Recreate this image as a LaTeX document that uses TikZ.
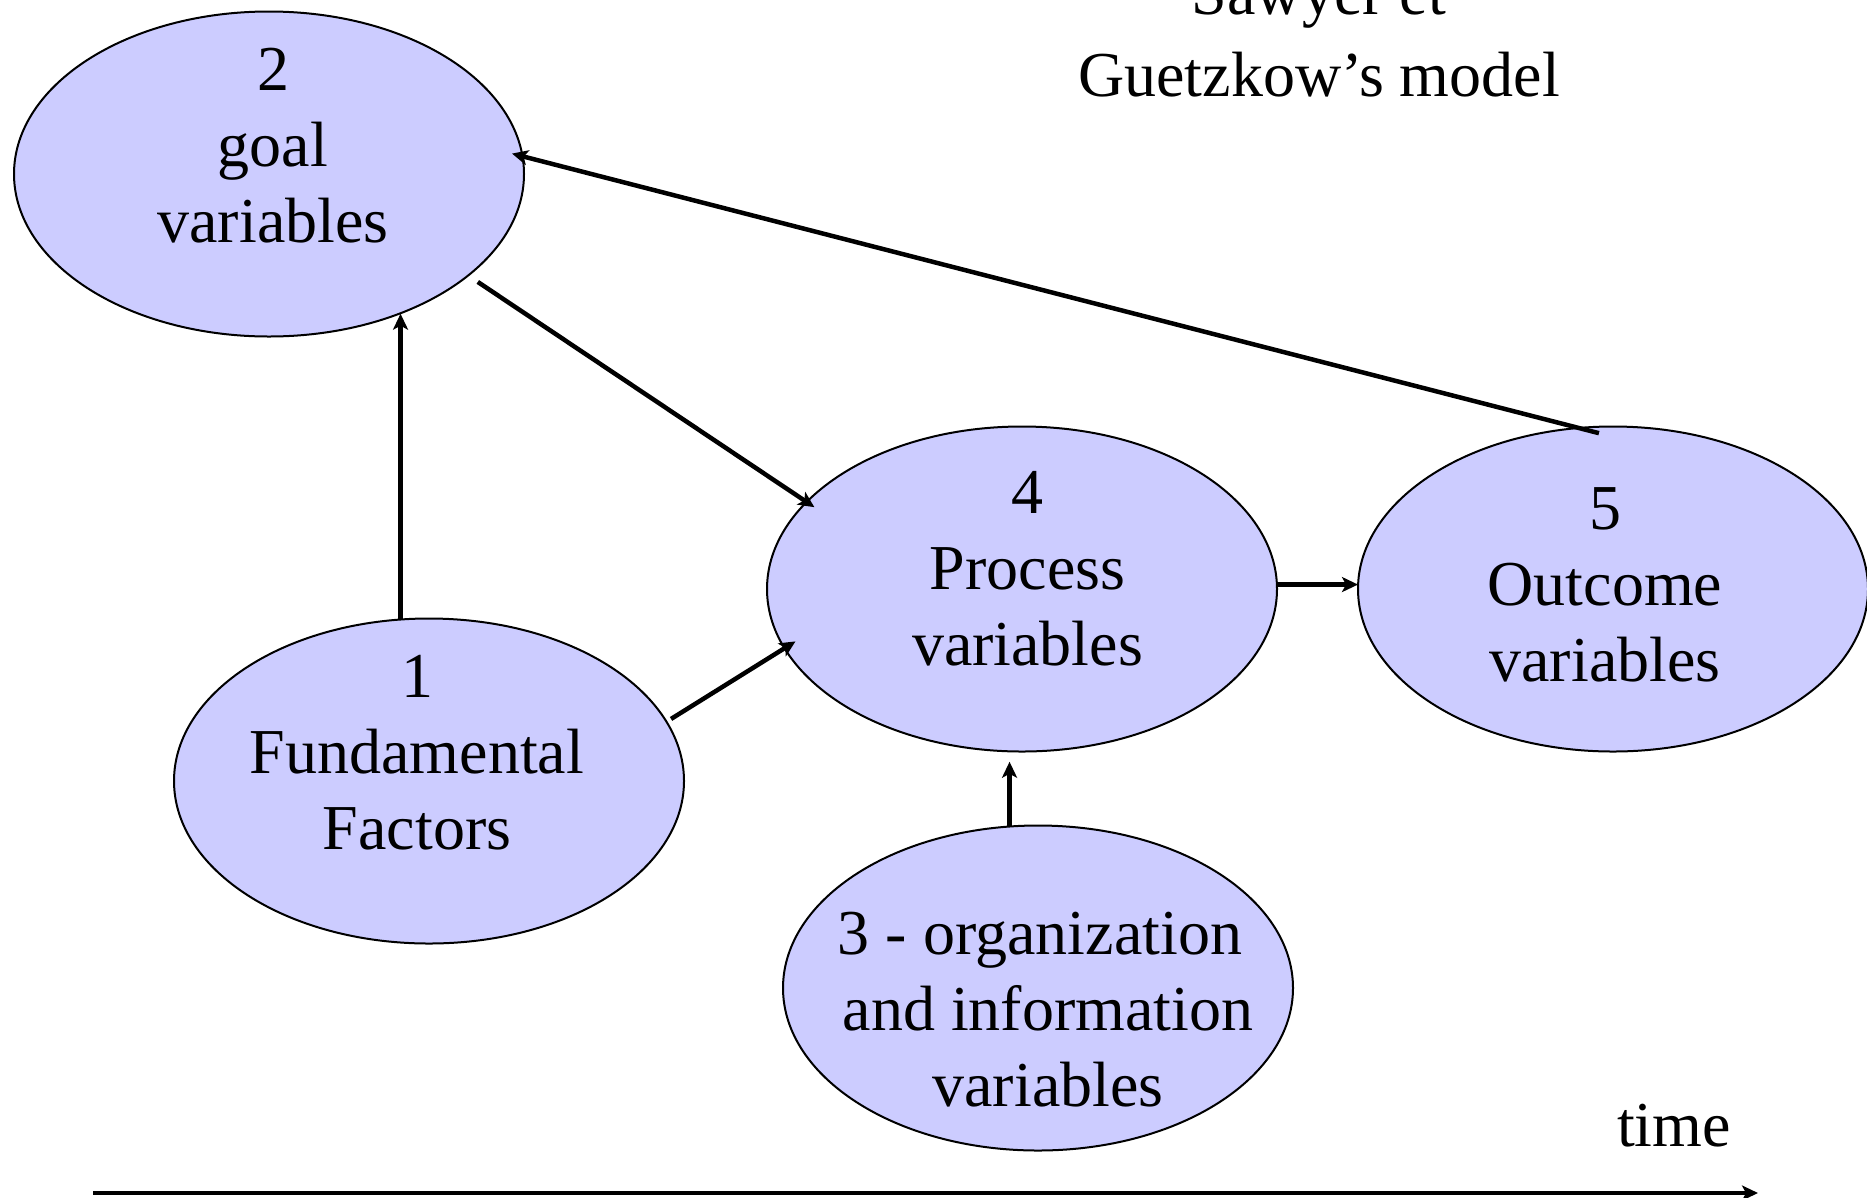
\documentclass[tikz,border=0pt]{standalone}
\usepackage{fontspec}
\setmainfont{Liberation Serif}
\usetikzlibrary{shapes.geometric,arrows.meta}
\definecolor{ovalfill}{RGB}{204,204,255}
% strut that gives every text line the same height and depth
\newcommand{\lstrut}{\rule[-26pt]{0pt}{76pt}}

\begin{document}
\begin{tikzpicture}[x=1pt,y=-1pt,
  oval/.style={ellipse, draw=black, line width=2pt, fill=ovalfill,
    minimum width=510pt, minimum height=325pt, inner sep=0pt, outer sep=0pt},
  lbl/.style={font=\fontsize{64}{76}\selectfont, align=center, inner sep=0pt},
  link/.style={line width=4.5pt, -{Stealth[length=16pt,width=15pt,inset=4pt]}}]
\useasboundingbox (0,0) rectangle (1867,1197);

% variable groups
\node[oval] (e2) at (269,174) {};
\node[oval] (e1) at (429,781) {};
\node[oval] (e4) at (1022,589) {};
\node[oval] (e5) at (1613,589) {};
\node[oval] (e3) at (1038,988) {};

\node[lbl] (t2) at (273,154) {\lstrut 2\\\lstrut goal\\\lstrut variables};
\node[lbl] (t1) at (417,761.3) {\lstrut 1\\\lstrut Fundamental\\\lstrut Factors};
\node[lbl] (t4) at (1027.5,577.3) {\lstrut 4\\\lstrut Process\\\lstrut variables};
\node[lbl] (t5) at (1605,593) {\lstrut 5\\\lstrut Outcome\\\lstrut variables};
\node[lbl] (t3) at (1048,1018) {\lstrut 3 - organization\hspace*{16pt}\\\lstrut and information\\\lstrut variables};

% heading and time axis label
\node[lbl] (title) at (1319,43.5) {\lstrut Sawyer et\\[6pt]\lstrut Guetzkow’s model};
\node[lbl] (time) at (1674,1134.7) {\lstrut time};

% influences between the groups
\draw[link] (e1.100.77) -- (e1.100.77 |- e2.-47.24);
\draw[link, shorten <=11.6pt, shorten >=-9.3pt] (e2.-27.08) -- (e4.158.35);
\draw[link, shorten <=5.4pt, shorten >=-12.9pt] (e1.14.47) -- (e4.194.42);
\draw[link, shorten >=10.6pt] (e3.100.66) -- (e3.100.66 |- e4.264.9);
\draw[link] (e4.1) -- (e4.1 -| e5.west);
\draw[link, shorten <=-20.8pt, shorten >=-10.8pt] (e5.102.41) -- (e2.4.43);

% time axis
\coordinate (t0) at (93,1193);
\coordinate (tend) at (1758,1193);
\draw[link] (t0) -- (tend);
\end{tikzpicture}
\end{document}
